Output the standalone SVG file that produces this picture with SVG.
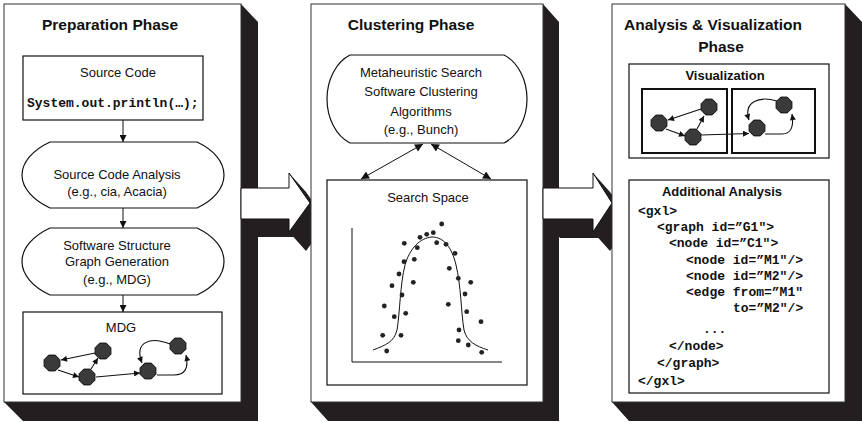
<svg xmlns="http://www.w3.org/2000/svg" width="862" height="422" viewBox="0 0 862 422">
<style>
.sh{fill:#231f20}
.panel{fill:#fff;stroke:#333;stroke-width:1}
.box{fill:#fff;stroke:#111;stroke-width:1.2}
.vbox{fill:#fff;stroke:#111;stroke-width:2}
.t{font-family:"Liberation Sans",Arial,sans-serif;font-size:13px;fill:#111;text-anchor:middle}
.ttl{font-family:"Liberation Sans",Arial,sans-serif;font-size:15.5px;font-weight:bold;fill:#111;text-anchor:middle}
.bt{font-family:"Liberation Sans",Arial,sans-serif;font-size:13px;font-weight:bold;fill:#111;text-anchor:middle}
.code{font-family:"Liberation Mono","Courier New",monospace;font-size:13px;font-weight:bold;fill:#111}
.ln{fill:none;stroke:#111;stroke-width:1}
.gl{fill:none;stroke:#111;stroke-width:1.1}
.fl{fill:none;stroke:#111;stroke-width:1;marker-end:url(#ah)}
.dl{fill:none;stroke:#111;stroke-width:1;marker-start:url(#ah2);marker-end:url(#ah2)}
.dot{fill:#222}
.bar{fill:#fff;stroke:#111;stroke-width:1}
</style>
<defs>
<marker id="ah" viewBox="0 0 10 10" refX="10" refY="5" markerWidth="8" markerHeight="7" markerUnits="userSpaceOnUse" orient="auto-start-reverse"><path d="M0,0 L10,5 L0,10 z" fill="#111"/></marker>
<marker id="ah2" viewBox="0 0 10 10" refX="10" refY="5" markerWidth="9" markerHeight="8" markerUnits="userSpaceOnUse" orient="auto-start-reverse"><path d="M0,0 L10,5 L0,10 z" fill="#111"/></marker>
<marker id="sa" viewBox="0 0 10 10" refX="10" refY="5" markerWidth="7" markerHeight="6" markerUnits="userSpaceOnUse" orient="auto"><path d="M0,0 L10,5 L0,10 z" fill="#111"/></marker>
<polygon id="oct" points="7.9,-3.3 3.3,-7.9 -3.3,-7.9 -7.9,-3.3 -7.9,3.3 -3.3,7.9 3.3,7.9 7.9,3.3" fill="#3a3a3a" stroke="#111" stroke-width="1"/>
</defs>

<!-- Panel 1 -->
<g id="preparation-phase">
<polygon class="sh" points="241,4 258,22 258,421 23,421 4,402 241,402"/>
<rect class="panel" x="4" y="4" width="237" height="398"/>
<text class="ttl" x="110" y="30">Preparation Phase</text>
</g>
<g id="source-code">
<rect class="box" x="23" y="56" width="180" height="64"/>
<text class="t" x="118" y="77">Source Code</text>
<text class="code" x="27" y="107">System.out.println(…);</text>
</g>
<g id="source-code-analysis">
<path class="box" d="M50,142 H197 C214,150 224,162 224,175 C224,188 214,200 197,208 H50 C33,200 22,188 22,175 C22,162 33,150 50,142 Z"/>
<text class="t" x="117" y="179">Source Code Analysis</text>
<text class="t" x="117" y="196">(e.g., cia, Acacia)</text>
</g>
<g id="graph-generation">
<path class="box" d="M50,228 H197 C214,236 224,248 224,261.5 C224,275 214,287 197,295 H50 C33,287 22,275 22,261.5 C22,248 33,236 50,228 Z"/>
<text class="t" x="117" y="250">Software Structure</text>
<text class="t" x="117" y="266">Graph Generation</text>
<text class="t" x="117" y="284">(e.g., MDG)</text>
</g>
<g id="mdg">
<rect class="box" x="23" y="312" width="199" height="82"/>
<text class="t" x="121" y="332">MDG</text>
<g class="mdg-edges">
<line class="gl" x1="95" y1="353" x2="61" y2="360" marker-end="url(#sa)"/>
<line class="gl" x1="58" y1="370" x2="79" y2="377" marker-end="url(#sa)"/>
<line class="gl" x1="91" y1="369" x2="98" y2="358" marker-end="url(#sa)"/>
<line class="gl" x1="96" y1="377" x2="140" y2="373" marker-end="url(#sa)"/>
<path class="gl" d="M170,344 C150,336 134,342 142,363" marker-end="url(#sa)"/>
<path class="gl" d="M157,375 L174,375 C185,375 189,368 186,355" marker-end="url(#sa)"/>
</g>
<use href="#oct" x="52" y="363"/>
<use href="#oct" x="103" y="351"/>
<use href="#oct" x="87" y="377"/>
<use href="#oct" x="148" y="371"/>
<use href="#oct" x="178" y="346"/>
</g>

<!-- Arrow 1 -->
<g id="phase-arrow-1">
<polygon class="sh" points="241,188 289,188 306,207 306,237 258,237 241,218"/>
<polygon class="sh" points="289,173 306,192 327,222 306,251 289,232"/>
<polygon class="bar" points="241,188 289,188 289,173 310,203 289,232 289,219 241,219"/>
</g>

<!-- Panel 2 -->
<g id="clustering-phase">
<polygon class="sh" points="543,4 559,22 559,421 328,421 311,402 543,402"/>
<rect class="panel" x="311" y="4" width="232" height="398"/>
<text class="ttl" x="411" y="30">Clustering Phase</text>
</g>
<g id="clustering-algorithms">
<path class="box" d="M350,55 H504 C518,62 527,80 527,99 C527,118 518,136 504,143 H350 C336,136 327,118 327,99 C327,80 336,62 350,55 Z"/>
<text class="t" x="421" y="77">Metaheuristic Search</text>
<text class="t" x="421" y="96">Software Clustering</text>
<text class="t" x="421" y="116">Algorithms</text>
<text class="t" x="421" y="134">(e.g., Bunch)</text>
</g>
<g id="search-space">
<rect class="box" x="327" y="180" width="200" height="205"/>
<text class="t" x="428" y="202">Search Space</text>
<polyline class="ln" points="352,228 352,362 502,362"/>
<path class="ln" d="M373,350 C386,345 394,342 397,330 C400,312 400,285 405,265 C410,248 420,238 432,237 C444,237 452,248 456,265 C461,285 461,312 464,330 C467,342 476,346 488,350"/>
<g class="dots">
<circle class="dot" cx="441.7" cy="224" r="2.4"/>
<circle class="dot" cx="420" cy="237.3" r="2.4"/>
<circle class="dot" cx="426.7" cy="234.3" r="2.4"/>
<circle class="dot" cx="433.3" cy="232.7" r="2.4"/>
<circle class="dot" cx="436.7" cy="242.7" r="2.4"/>
<circle class="dot" cx="446" cy="244.3" r="2.4"/>
<circle class="dot" cx="404.3" cy="243.3" r="2.4"/>
<circle class="dot" cx="417.3" cy="247.7" r="2.4"/>
<circle class="dot" cx="455" cy="253.3" r="2.4"/>
<circle class="dot" cx="404" cy="261.7" r="2.4"/>
<circle class="dot" cx="414.3" cy="259.3" r="2.4"/>
<circle class="dot" cx="449.3" cy="268.3" r="2.4"/>
<circle class="dot" cx="399" cy="274" r="2.4"/>
<circle class="dot" cx="458.3" cy="278.3" r="2.4"/>
<circle class="dot" cx="470.7" cy="282.3" r="2.4"/>
<circle class="dot" cx="413.3" cy="282.3" r="2.4"/>
<circle class="dot" cx="392" cy="285.7" r="2.4"/>
<circle class="dot" cx="402" cy="295" r="2.4"/>
<circle class="dot" cx="465" cy="294" r="2.4"/>
<circle class="dot" cx="384.3" cy="306" r="2.4"/>
<circle class="dot" cx="448.3" cy="304.3" r="2.4"/>
<circle class="dot" cx="466.7" cy="311.7" r="2.4"/>
<circle class="dot" cx="394.3" cy="316.7" r="2.4"/>
<circle class="dot" cx="405.7" cy="313.3" r="2.4"/>
<circle class="dot" cx="481" cy="321.7" r="2.4"/>
<circle class="dot" cx="382.7" cy="335.3" r="2.4"/>
<circle class="dot" cx="401" cy="335.3" r="2.4"/>
<circle class="dot" cx="459" cy="330" r="2.4"/>
<circle class="dot" cx="458.3" cy="340.7" r="2.4"/>
<circle class="dot" cx="468.3" cy="345" r="2.4"/>
<circle class="dot" cx="386.7" cy="351" r="2.4"/>
<circle class="dot" cx="481.7" cy="352.3" r="2.4"/>
</g>
</g>

<!-- Arrow 2 -->
<g id="phase-arrow-2">
<polygon class="sh" points="543,188 593,188 610,207 610,238 560,238 543,219"/>
<polygon class="sh" points="593,173 610,192 631,222 610,251 593,232"/>
<polygon class="bar" points="543,188 593,188 593,173 612,203 593,232 593,219 543,219"/>
</g>

<!-- Panel 3 -->
<g id="analysis-visualization-phase">
<polygon class="sh" points="845,4 862,22 862,421 629,421 612,402 845,402"/>
<rect class="panel" x="612" y="4" width="233" height="398"/>
<text class="ttl" x="713" y="30">Analysis &amp; Visualization</text>
<text class="ttl" x="721" y="52">Phase</text>
</g>
<g id="visualization">
<rect class="box" x="629" y="64" width="200" height="94"/>
<text class="bt" x="725" y="80">Visualization</text>
<rect class="vbox" x="642" y="89" width="85" height="64"/>
<rect class="vbox" x="732" y="89" width="83" height="64"/>
<g class="vis-edges">
<line class="gl" x1="701" y1="109" x2="668" y2="120" marker-end="url(#sa)"/>
<line class="gl" x1="666" y1="129" x2="685" y2="136" marker-end="url(#sa)"/>
<line class="gl" x1="697" y1="129" x2="704" y2="116" marker-end="url(#sa)"/>
<line class="gl" x1="701" y1="135" x2="749" y2="133.5" marker-end="url(#sa)"/>
<path class="gl" d="M777,101 C760,96 743,101 749,120" marker-end="url(#sa)"/>
<path class="gl" d="M765,134 L782,134 C791,134 794,127 792,114" marker-end="url(#sa)"/>
</g>
<use href="#oct" x="659" y="123"/>
<use href="#oct" x="709" y="107"/>
<use href="#oct" x="693" y="137"/>
<use href="#oct" x="757" y="128"/>
<use href="#oct" x="784" y="105"/>
</g>
<g id="additional-analysis">
<rect class="box" x="629" y="180" width="200" height="213"/>
<text class="bt" x="722" y="196">Additional Analysis</text>
<text class="code" x="638" y="215">&lt;gxl&gt;</text>
<text class="code" x="657" y="231">&lt;graph id=”G1"&gt;</text>
<text class="code" x="669" y="247">&lt;node id=”C1"&gt;</text>
<text class="code" x="686" y="264">&lt;node id=”M1"/&gt;</text>
<text class="code" x="686" y="280">&lt;node id=”M2"/&gt;</text>
<text class="code" x="686" y="296">&lt;edge from=”M1"</text>
<text class="code" x="733" y="312">to=”M2"/&gt;</text>
<text class="code" x="703" y="333">...</text>
<text class="code" x="669" y="350">&lt;/node&gt;</text>
<text class="code" x="657" y="367">&lt;/graph&gt;</text>
<text class="code" x="638" y="385">&lt;/gxl&gt;</text>
</g>

<!-- Connectors -->
<g id="connectors">
<line class="fl" x1="123" y1="120" x2="123" y2="142"/>
<line class="fl" x1="123" y1="208" x2="123" y2="228"/>
<line class="fl" x1="123" y1="295" x2="123" y2="312"/>
<line class="dl" x1="423" y1="144" x2="361" y2="179"/>
<line class="dl" x1="431" y1="144" x2="491" y2="179"/>
</g>
</svg>
